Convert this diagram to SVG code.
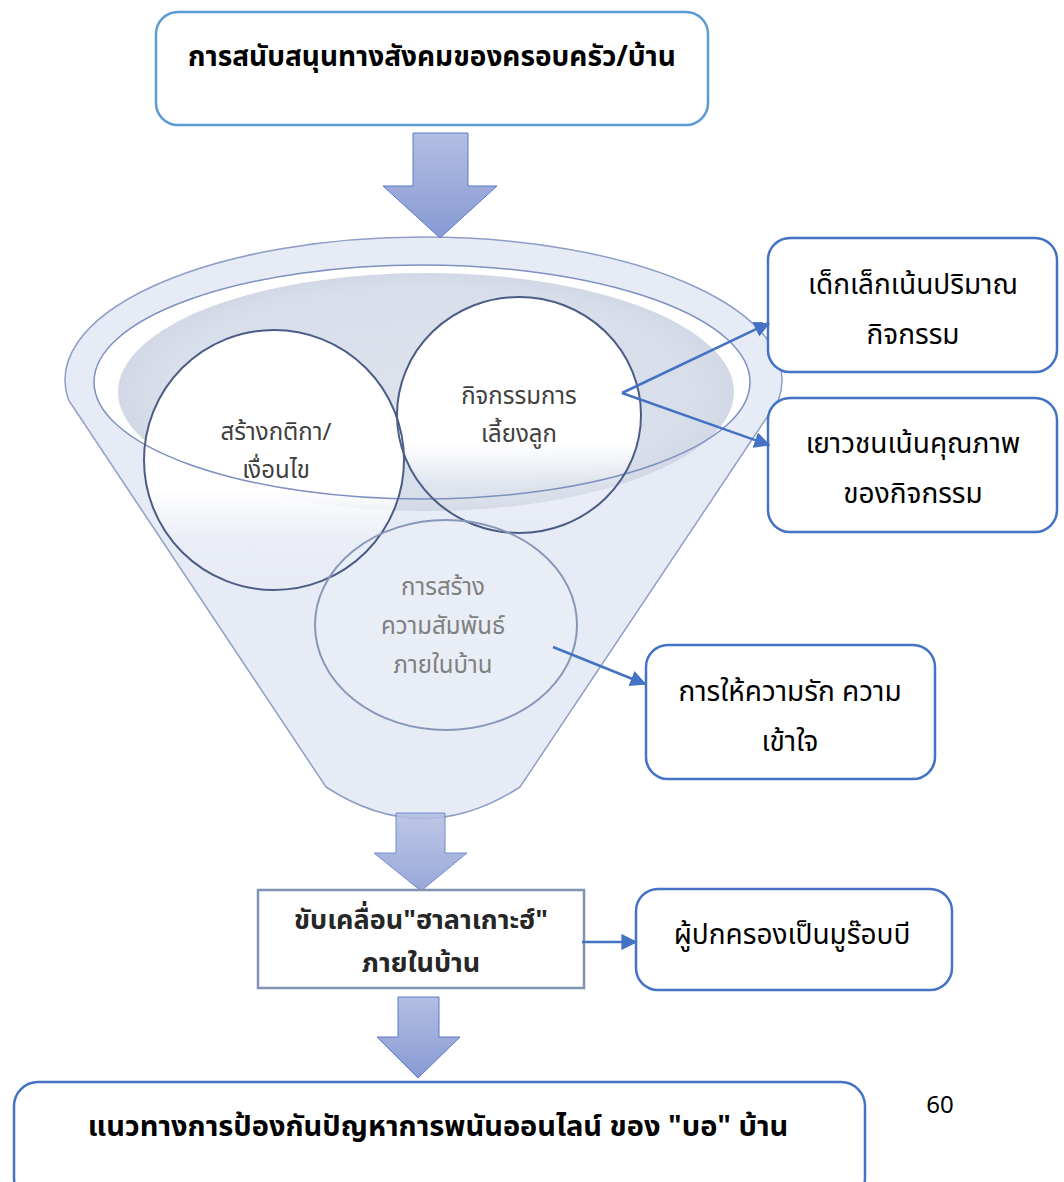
<svg xmlns="http://www.w3.org/2000/svg" width="1064" height="1182" viewBox="0 0 1064 1182">
<defs>
<linearGradient id="arrowG" x1="0" y1="0" x2="0" y2="1">
<stop offset="0" stop-color="#B2BEE2"/><stop offset="1" stop-color="#8799D3"/>
</linearGradient>
<linearGradient id="circG" x1="0" y1="0" x2="0" y2="1">
<stop offset="0" stop-color="#FFFFFF" stop-opacity="1"/>
<stop offset="0.62" stop-color="#FFFFFF" stop-opacity="1"/>
<stop offset="0.8" stop-color="#FFFFFF" stop-opacity="0.15"/>
<stop offset="1" stop-color="#FFFFFF" stop-opacity="0"/>
</linearGradient>
<radialGradient id="shadeG" cx="0.5" cy="0.5" r="0.5">
<stop offset="0" stop-color="#DDE2ED"/><stop offset="0.85" stop-color="#D9DFEA"/><stop offset="1" stop-color="#D2D8E5"/>
</radialGradient>
<marker id="ah" viewBox="0 0 10 10" refX="9" refY="5" markerWidth="6.5" markerHeight="6.5" orient="auto" markerUnits="strokeWidth">
<path d="M0,0 L10,5 L0,10 Z" fill="#4472C4"/>
</marker>
</defs>
<style>
.th{font-family:"Noto Sans Thai","Noto Sans","DejaVu Sans",sans-serif;}
.box{fill:#FFFFFF;stroke:#4472C4;stroke-width:2.5;}
.lbl{font-size:28px;fill:#000000;text-anchor:middle;}
.cl{font-size:24px;fill:#404040;text-anchor:middle;}
.arrow{fill:url(#arrowG);stroke:#5A7BC8;stroke-width:1;}
.conn{stroke:#4472C4;stroke-width:2.5;fill:none;marker-end:url(#ah);}
</style>
<rect width="1064" height="1182" fill="#FFFFFF"/>

<g id="funnel">
<path d="M68.5,400 A358.5,143 0 1 1 778.5,400 L520,787 Q423,850 326,787 Z" fill="#E7EBF5" stroke="#8E9EC6" stroke-width="1.5"/>
<ellipse cx="422" cy="382" rx="328" ry="117" fill="#FFFFFF"/>
<ellipse cx="426" cy="392" rx="308" ry="119" fill="url(#shadeG)"/>
</g>

<g id="circle-rules">
<ellipse cx="274" cy="460" rx="130" ry="130" fill="url(#circG)"/>
</g>
<g id="circle-activities">
<ellipse cx="519" cy="415" rx="122" ry="118" fill="url(#circG)"/>
</g>
<g id="circle-relations">
<ellipse cx="446" cy="625" rx="131" ry="105" fill="#E9EDF6" fill-opacity="0.85"/>
</g>
<g id="funnel-rim">
<ellipse cx="422" cy="382" rx="328" ry="117" fill="none" stroke="#7D90C0" stroke-width="1.5"/>
</g>
<g id="circle-strokes">
<ellipse cx="274" cy="460" rx="130" ry="130" fill="none" stroke="#4B5D86" stroke-width="2"/>
<ellipse cx="519" cy="415" rx="122" ry="118" fill="none" stroke="#4B5D86" stroke-width="2"/>
<ellipse cx="446" cy="625" rx="131" ry="105" fill="none" stroke="#8797B8" stroke-width="2"/>
<text class="th cl" x="276" y="440">สร้างกติกา/</text>
<text class="th cl" x="276" y="478">เงื่อนไข</text>
<text class="th cl" x="519" y="404">กิจกรรมการ</text>
<text class="th cl" x="519" y="442">เลี้ยงลูก</text>
<text class="th cl" x="443" y="595" style="fill:#808080">การสร้าง</text>
<text class="th cl" x="443" y="634" style="fill:#808080">ความสัมพันธ์</text>
<text class="th cl" x="443" y="673" style="fill:#808080">ภายในบ้าน</text>
</g>

<g id="top-box">
<rect x="156" y="12" width="552" height="113" rx="22" fill="#FFFFFF" stroke="#5B9BD5" stroke-width="2.5"/>
<text class="th" x="432" y="66" font-size="28" font-weight="bold" text-anchor="middle">การสนับสนุนทางสังคมของครอบครัว/บ้าน</text>
</g>

<g id="arrow1">
<path class="arrow" d="M413,133 L468,133 L468,186 L497,186 L440,238 L383,186 L413,186 Z"/>
</g>

<g id="box-small-children">
<rect class="box" x="768" y="238" width="289" height="134" rx="22"/>
<text class="th lbl" x="913" y="294">เด็กเล็กเน้นปริมาณ</text>
<text class="th lbl" x="913" y="344">กิจกรรม</text>
</g>
<g id="box-youth">
<rect class="box" x="768" y="398" width="289" height="134" rx="22"/>
<text class="th lbl" x="913" y="453">เยาวชนเน้นคุณภาพ</text>
<text class="th lbl" x="913" y="503">ของกิจกรรม</text>
</g>
<g id="box-love">
<rect class="box" x="646" y="645" width="289" height="134" rx="22"/>
<text class="th lbl" x="790" y="701">การให้ความรัก ความ</text>
<text class="th lbl" x="790" y="751">เข้าใจ</text>
</g>

<g id="arrow2">
<path class="arrow" d="M396,813 L445,813 L445,853 L467,853 L421,891 L374,853 L396,853 Z" opacity="0.85"/>
</g>

<g id="box-halakoh">
<rect x="258" y="890" width="326" height="98" fill="#FFFFFF" stroke="#8193B2" stroke-width="2.5"/>
<text class="th" x="421" y="929" font-size="27" font-weight="bold" fill="#262626" text-anchor="middle">ขับเคลื่อน"ฮาลาเกาะฮ์"</text>
<text class="th" x="421" y="972" font-size="27" font-weight="bold" fill="#262626" text-anchor="middle">ภายในบ้าน</text>
</g>
<g id="box-murabbi">
<rect class="box" x="636" y="889" width="316" height="101" rx="22"/>
<text class="th lbl" x="792" y="944">ผู้ปกครองเป็นมูร๊อบบี</text>
</g>

<g id="arrow3">
<path class="arrow" d="M398,997 L439,997 L439,1037 L460,1037 L418,1078 L377,1037 L398,1037 Z"/>
</g>

<g id="bottom-box">
<rect x="14" y="1082" width="851" height="120" rx="24" fill="#FFFFFF" stroke="#4472C4" stroke-width="2.5"/>
<text class="th" x="438" y="1136" font-size="29" font-weight="bold" text-anchor="middle">แนวทางการป้องกันปัญหาการพนันออนไลน์ ของ "บอ" บ้าน</text>
</g>

<text class="th" x="940" y="1113" font-size="24" text-anchor="middle" fill="#000000">60</text>

<g id="connectors">
<line class="conn" x1="622" y1="393" x2="769" y2="323"/>
<line class="conn" x1="622" y1="393" x2="769" y2="445"/>
<line class="conn" x1="553" y1="647" x2="645" y2="684"/>
<line class="conn" x1="582" y1="942" x2="636" y2="942"/>
</g>
</svg>
